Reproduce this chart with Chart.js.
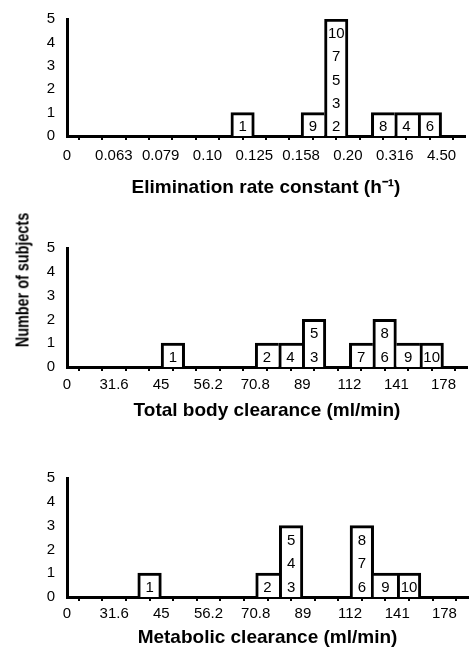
<!DOCTYPE html>
<html>
<head>
<meta charset="utf-8">
<script src="https://cdn.jsdelivr.net/npm/chart.js@4.4.0/dist/chart.umd.min.js"></script>
<style>
  html, body { margin: 0; padding: 0; background: #fff; }
  body { width: 472px; height: 655px; position: relative; overflow: hidden; }
  canvas { position: absolute; left: 0; display: block; }
  #ytitle {
    position: absolute; left: 23px; top: 280px;
    transform: translate(-50%, -50%) rotate(-90deg) scaleX(0.8);
    font: bold 18px "Liberation Sans", Arial, sans-serif;
    white-space: nowrap; color: #000;
  }
</style>
</head>
<body>
<canvas id="c-elim" width="472" height="200" style="top:0px"></canvas>
<canvas id="c-total" width="472" height="220" style="top:205px"></canvas>
<canvas id="c-met" width="472" height="215" style="top:440px"></canvas>
<div id="ytitle">Number of subjects</div>

<script>
// tick labels sit on every second bin edge
const elimTicks = ['0', '0.063', '0.079', '0.10', '0.125', '0.158', '0.20', '0.316', '4.50'];
const clearTicks = ['0', '31.6', '45', '56.2', '70.8', '89', '112', '141', '178'];

// bin index (0..16), number of subjects, subject ids bottom to top
const elimBins = [7, 10, 11, 13, 14, 15];
const elimCounts = [1, 1, 5, 1, 1, 1];
const elimSubjects = [[1], [9], [2, 3, 5, 7, 10], [8], [4], [6]];

const totalBins = [4, 8, 9, 10, 12, 13, 14, 15];
const totalCounts = [1, 1, 1, 2, 1, 2, 1, 1];
const totalSubjects = [[1], [2], [4], [3, 5], [7], [6, 8], [9], [10]];

const metBins = [3, 8, 9, 12, 13, 14];
const metCounts = [1, 1, 3, 3, 1, 1];
const metSubjects = [[1], [2], [3, 4, 5], [6, 7, 8], [9], [10]];

const FONT = '"Liberation Sans", Arial, sans-serif';

const subjectLabels = {
  id: 'subjectLabels',
  afterDraw(chart, args, opts) {
    const { ctx, scales: { x, y } } = chart;
    ctx.save();
    ctx.font = '15px ' + FONT;
    ctx.fillStyle = '#000';
    ctx.textAlign = 'center';
    ctx.textBaseline = 'middle';
    opts.bins.forEach((b, i) => {
      opts.subjects[i].forEach((s, k) => {
        ctx.fillText(String(s), x.getPixelForValue(b + 0.5), y.getPixelForValue(k + 0.5) + 3);
      });
    });
    ctx.restore();
  }
};

function histo(id, p) {
  const heightOf = b => {
    const i = p.bins.indexOf(b);
    return i < 0 ? 0 : p.counts[i];
  };
  const ctx = document.getElementById(id).getContext('2d');
  return new Chart(ctx, {
    type: 'bar',
    data: {
      datasets: [{
        data: p.bins.map((b, i) => ({ x: b + 0.5, y: p.counts[i] })),
        backgroundColor: '#fff',
        borderColor: '#000',
        borderSkipped: 'bottom',
        borderWidth: c => {
          const b = p.bins[c.dataIndex];
          const h = p.counts[c.dataIndex];
          return {
            top: 3,
            bottom: 0,
            left: h >= heightOf(b - 1) ? 3 : 0,
            right: h > heightOf(b + 1) ? 3 : 0
          };
        },
        barPercentage: 1,
        categoryPercentage: 1
      }]
    },
    options: {
      responsive: false,
      animation: false,
      layout: { padding: { top: p.top, left: 0, right: 0, bottom: 0 } },
      plugins: {
        legend: { display: false },
        tooltip: { enabled: false },
        subjectLabels: { bins: p.bins, subjects: p.subjects }
      },
      scales: {
        x: {
          type: 'linear', min: 0, max: 17, offset: false, z: 1,
          afterFit: s => { s.height = p.H - p.bottom; },
          grid: { display: true, drawOnChartArea: false, drawTicks: true, tickLength: 4, color: '#000', lineWidth: 2 },
          border: { display: true, color: '#000', width: 3 },
          ticks: {
            stepSize: 1, autoSkip: false, maxRotation: 0, padding: p.labelPad, color: '#000',
            font: { family: FONT, size: 15 },
            callback: (v, i) => (i % 2 === 0 && p.ticks[i / 2] !== undefined) ? p.ticks[i / 2] : ''
          },
          title: {
            display: true, text: p.title, color: '#000',
            font: { family: FONT, size: 19, weight: 'bold' },
            padding: { top: 0, bottom: p.H - p.titleY - 11.4 }
          }
        },
        y: {
          min: 0, max: 5, z: 1,
          afterFit: s => { s.width = 67; },
          grid: { display: false },
          border: { display: true, color: '#000', width: 3 },
          ticks: { stepSize: 1, padding: 4, color: '#000', font: { family: FONT, size: 15 } }
        }
      }
    },
    plugins: [subjectLabels]
  });
}

histo('c-elim', {
  bins: elimBins, counts: elimCounts, subjects: elimSubjects, ticks: elimTicks,
  title: 'Elimination rate constant (h\u207B\u00B9)',
  H: 200, top: 19, bottom: 136, titleY: 188, labelPad: 7
});
histo('c-total', {
  bins: totalBins, counts: totalCounts, subjects: totalSubjects, ticks: clearTicks,
  title: 'Total body clearance (ml/min)',
  H: 220, top: 43, bottom: 162, titleY: 206, labelPad: 5
});
histo('c-met', {
  bins: metBins, counts: metCounts, subjects: metSubjects, ticks: clearTicks,
  title: 'Metabolic clearance (ml/min)',
  H: 215, top: 38, bottom: 157, titleY: 198, labelPad: 4
});
</script>
</body>
</html>
